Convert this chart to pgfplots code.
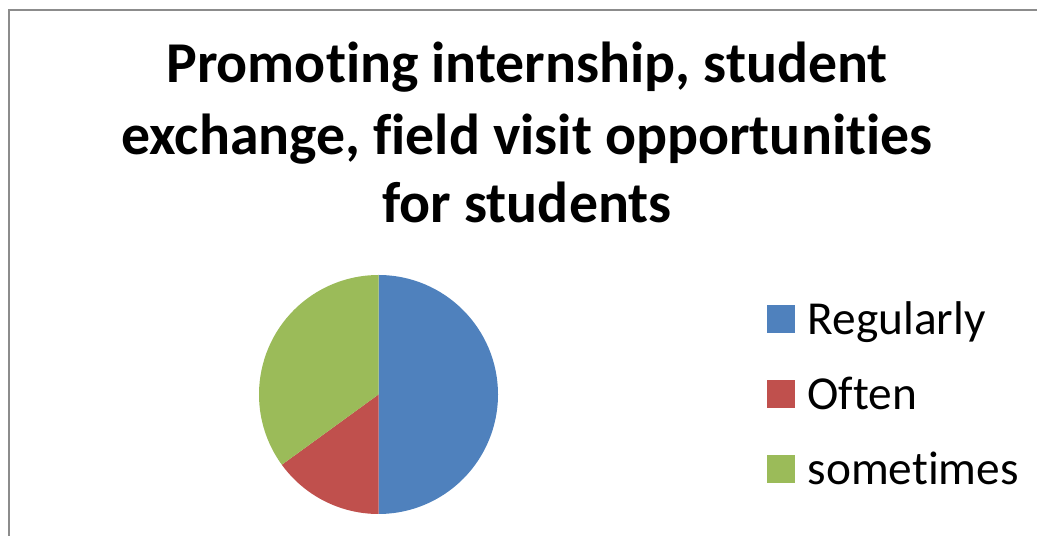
\documentclass[border=0pt]{standalone}
\usepackage{pgfplots}
\usepackage{pgfplotstable}
\pgfplotsset{compat=1.18}
\usepackage{fontspec}
\setmainfont{Carlito}[Ligatures=NoCommon]

\definecolor{pieblue}{HTML}{4F81BD}
\definecolor{piered}{HTML}{C0504D}
\definecolor{piegreen}{HTML}{9BBB59}
\definecolor{framegray}{HTML}{8C8C8C}

% share of answers, in percent
\pgfplotstableread{
label value
Regularly 50
Often 15
sometimes 35
}\piedata

\begin{document}
\begin{tikzpicture}[x=1bp,y=1bp]
\useasboundingbox (0,0) rectangle (1037,536);
\draw[framegray, line width=1.5bp] (9,-2) -- (9,526) -- (1040,526);

% title, one node per line
\tikzset{ttl/.style={anchor=base, inner sep=0pt, font=\fontsize{58}{68}\selectfont\bfseries}}
\node[ttl] at (527,453) {Promoting internship, student};
\node[ttl] at (527,381) {exchange, field visit opportunities};
\node[ttl] at (527,313) {for students};

\begin{axis}[
  x=1bp, y=1bp,
  xmin=-120, xmax=120, ymin=-120, ymax=120,
  hide axis,
  anchor=center, at={(378.5,141.5)},
  clip=false,
  legend style={
    at={(axis cs:388.5,95)}, anchor=north west,
    draw=none, fill=none,
    font=\fontsize{47.5}{56}\selectfont,
    row sep=37bp,
    inner sep=0pt,
    /tikz/every odd column/.append style={column sep=11bp},
  },
  legend cell align=left,
  legend image code/.code={\fill[#1] (0bp,-13.5bp) rectangle (27bp,13.5bp);},
]
\def\startangle{90}
\pgfplotstablegetrowsof{\piedata}
\pgfmathtruncatemacro\lastrow{\pgfplotsretval-1}
\pgfplotsforeachungrouped \i in {0,...,\lastrow}{%
  \pgfplotstablegetelem{\i}{value}\of\piedata
  \pgfmathsetmacro\endangle{\startangle-3.6*\pgfplotsretval}%
  \pgfmathsetmacro\sx{119.5*cos(\startangle)}%
  \pgfmathsetmacro\sy{119.5*sin(\startangle)}%
  \ifcase\i \def\pc{pieblue}\or \def\pc{piered}\or \def\pc{piegreen}\fi
  \edef\slice{\noexpand\fill[\pc] (axis cs:0,0) -- (axis cs:\sx,\sy)
    arc[start angle=\startangle, end angle=\endangle, radius=119.5bp] -- cycle;}%
  \slice
  \global\let\startangle\endangle
}
\addlegendimage{pieblue}
\addlegendentry{Regularly}
\addlegendimage{piered}
\addlegendentry{Often}
\addlegendimage{piegreen}
\addlegendentry{sometimes}
\end{axis}
\end{tikzpicture}
\end{document}
